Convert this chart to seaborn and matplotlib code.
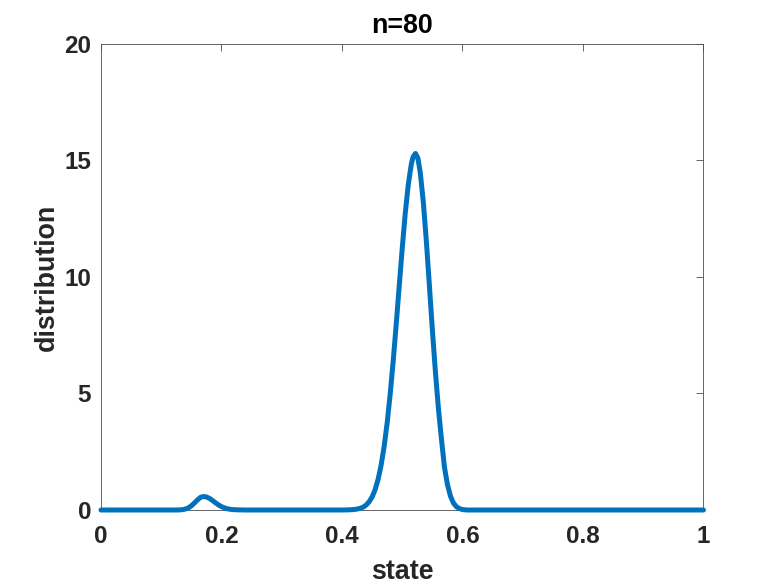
import pandas as pd
import matplotlib
matplotlib.use("Agg")
import matplotlib.pyplot as plt
import seaborn as sns

# Values (state -> distribution)
state = [
    0.00, 0.05, 0.10, 0.120, 0.125, 0.130, 0.135, 0.140, 0.145, 0.150, 0.155,
    0.160, 0.165, 0.170, 0.175, 0.180, 0.185, 0.190, 0.195, 0.200, 0.205,
    0.210, 0.215, 0.220, 0.230, 0.240, 0.30, 0.35, 0.40, 0.41, 0.42,
    0.425, 0.430, 0.435, 0.440, 0.445, 0.450, 0.455, 0.460, 0.465, 0.470,
    0.475, 0.480, 0.485, 0.490, 0.495, 0.500, 0.505, 0.510, 0.515, 0.518,
    0.522, 0.526, 0.530, 0.535, 0.540, 0.545, 0.550, 0.555, 0.560, 0.565, 0.570,
    0.575, 0.580, 0.585, 0.590, 0.595, 0.600, 0.605, 0.610, 0.65, 0.70,
    0.80, 0.90, 1.00,
]
distribution = [
    0.00, 0.00, 0.00, 0.000, 0.000, 0.005, 0.015, 0.04, 0.09, 0.18, 0.30,
    0.43, 0.54, 0.58, 0.56, 0.50, 0.41, 0.31, 0.22, 0.145, 0.09,
    0.05, 0.03, 0.015, 0.005, 0.00, 0.00, 0.00, 0.001, 0.005, 0.02,
    0.04, 0.07, 0.12, 0.21, 0.35, 0.56, 0.87, 1.32, 1.93, 2.73,
    3.74, 4.97, 6.39, 7.96, 9.61, 11.23, 12.73, 13.96, 14.83, 15.15,
    15.30, 15.10, 14.47, 13.21, 11.55, 9.67, 7.74, 5.95, 4.37, 3.07, 1.85,
    1.10, 0.60, 0.30, 0.14, 0.06, 0.02, 0.005, 0.00, 0.00, 0.00,
    0.00, 0.00, 0.00,
]
x_ticks = [0, 0.2, 0.4, 0.6, 0.8, 1]
x_tick_labels = ["0", "0.2", "0.4", "0.6", "0.8", "1"]
y_ticks = [0, 5, 10, 15, 20]

df = pd.DataFrame({"state": state, "distribution": distribution})

sns.set_style("white")
plt.rcParams['font.family'] = ['Liberation Sans', 'DejaVu Sans']
plt.rcParams['font.weight'] = 'bold'

ink = '#262626'
fig = plt.figure(figsize=(7.78, 5.84), dpi=100)
ax = fig.add_axes([0.1298, 0.1267, 0.7744, 0.798])

sns.lineplot(data=df, x="state", y="distribution", color='#0072BD',
             linewidth=3.6, ax=ax, clip_on=False, zorder=3)

ax.set_xlim(0, 1)
ax.set_ylim(0, 20)
ax.set_xticks(x_ticks)
ax.set_xticklabels(x_tick_labels)
ax.set_yticks(y_ticks)

for s in ax.spines.values():
    s.set_color('#4d4d4d')
    s.set_linewidth(0.6)

ax.tick_params(axis='both', direction='in', length=5, width=0.6, color='#4d4d4d',
               labelsize=17.5, labelcolor=ink, top=True, right=True)
ax.tick_params(axis='x', pad=11)
ax.tick_params(axis='y', pad=7)
for lab in ax.get_xticklabels() + ax.get_yticklabels():
    lab.set_fontweight('bold')

ax.set_xlabel('state', fontsize=19.3, fontweight='bold', color=ink, labelpad=8)
ax.set_ylabel('distribution', fontsize=19.3, fontweight='bold', color=ink, labelpad=3.5)
ax.set_title('n=80', fontsize=19.3, fontweight='bold', color='#000000', pad=8)

fig.savefig('out.png', dpi=100)
